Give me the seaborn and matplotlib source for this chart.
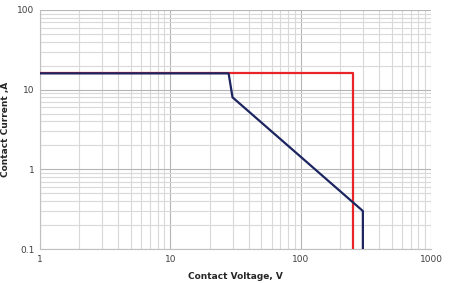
import matplotlib
matplotlib.use("Agg")
import matplotlib.pyplot as plt
import seaborn as sns
import pandas as pd
from matplotlib.ticker import FixedLocator, FixedFormatter, LogLocator, NullFormatter

# Data
ac_voltage = [1, 28, 250, 250]
ac_current = [16, 16, 16, 0.1]
dc_voltage = [1, 28, 30, 300, 300]
dc_current = [16, 16, 8, 0.3, 0.1]
x_ticks = [1, 10, 100, 1000]
x_labels = ["1", "10", "100", "1000"]
y_ticks = [0.1, 1, 10, 100]
y_labels = ["0.1", "1", "10", "100"]

sns.set_theme(style="white")
plt.rcParams['font.family'] = ['DejaVu Sans']

fig = plt.figure(figsize=(4.49, 2.83), dpi=100)
ax = fig.add_axes([0.089, 0.12, 0.871, 0.845])

df_ac = pd.DataFrame({"V": ac_voltage, "I": ac_current})
df_dc = pd.DataFrame({"V": dc_voltage, "I": dc_current})

sns.lineplot(data=df_ac, x="V", y="I", ax=ax, color="#e8262a", lw=1.6,
             sort=False, estimator=None, zorder=3)
sns.lineplot(data=df_dc, x="V", y="I", ax=ax, color="#1c2560", lw=1.6,
             sort=False, estimator=None, zorder=4)

ax.set_xscale("log")
ax.set_yscale("log")
ax.set_xlim(1, 1000)
ax.set_ylim(0.1, 100)

ax.xaxis.set_major_locator(FixedLocator(x_ticks))
ax.xaxis.set_major_formatter(FixedFormatter(x_labels))
ax.yaxis.set_major_locator(FixedLocator(y_ticks))
ax.yaxis.set_major_formatter(FixedFormatter(y_labels))
ax.xaxis.set_minor_locator(LogLocator(base=10, subs=range(2, 10)))
ax.yaxis.set_minor_locator(LogLocator(base=10, subs=range(2, 10)))
ax.xaxis.set_minor_formatter(NullFormatter())
ax.yaxis.set_minor_formatter(NullFormatter())

ax.grid(True, which="major", color="#b5b5b5", lw=0.8)
ax.grid(True, which="minor", color="#d9d9d9", lw=0.8)
ax.tick_params(which="both", length=0, labelsize=6.5, labelcolor="#404040", pad=4)

for s in ["top", "right"]:
    ax.spines[s].set_visible(False)
for s in ["left", "bottom"]:
    ax.spines[s].set_color("#c0c0c0")
    ax.spines[s].set_linewidth(0.8)

ax.set_xlabel("Contact Voltage, V", fontsize=6.5, fontweight="bold", labelpad=6)
ax.set_ylabel("Contact Current ,A", fontsize=6.5, fontweight="bold", labelpad=5)

fig.savefig("out.png", dpi=100)
